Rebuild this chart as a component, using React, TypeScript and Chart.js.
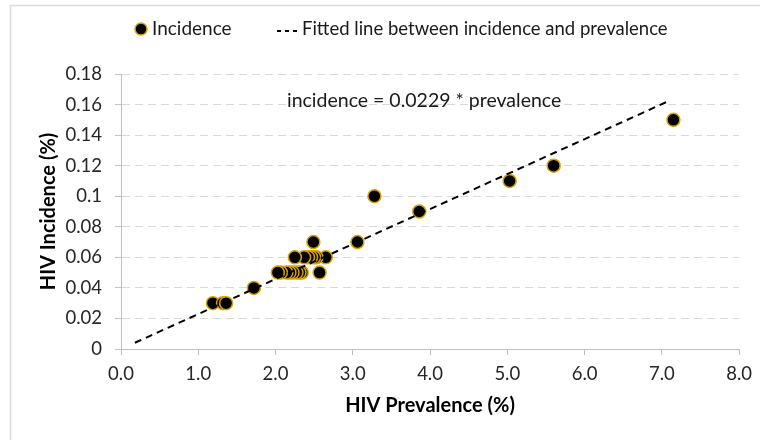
import React, { useEffect, useRef } from 'react';
import { Chart, registerables } from 'chart.js';

Chart.register(...registerables);

// ---- data ----
const prevalence = [
  1.19, 1.32, 1.36, 1.72,
  2.34, 2.31, 2.27, 2.22, 2.18, 2.14, 2.07, 2.03, 2.57,
  2.65, 2.53, 2.50, 2.46, 2.42, 2.37, 2.25,
  2.49, 3.06, 3.28, 3.86, 5.03, 5.60, 7.15,
];
const incidence = [
  0.03, 0.03, 0.03, 0.04,
  0.05, 0.05, 0.05, 0.05, 0.05, 0.05, 0.05, 0.05, 0.05,
  0.06, 0.06, 0.06, 0.06, 0.06, 0.06, 0.06,
  0.07, 0.07, 0.10, 0.09, 0.11, 0.12, 0.15,
];
const fitPrevalence = [0.18, 7.08];
const fitIncidence = [0.0041, 0.1621];

const legendLabels = ['Incidence', 'Fitted line between incidence and prevalence'];
const equationText = 'incidence = 0.0229 * prevalence';
const xTitle = 'HIV Prevalence (%)';
const yTitle = 'HIV Incidence (%)';

const FONT = 'Lato, "Open Sans", sans-serif';
const GOLD = '#D9A400';

const decor = {
  id: 'decor',
  beforeDraw(chart: any) {
    const ctx = chart.ctx;
    ctx.save();
    ctx.fillStyle = '#ffffff';
    ctx.fillRect(0, 0, chart.width, chart.height);
    ctx.strokeStyle = '#d9d9d9';
    ctx.lineWidth = 1.5;
    ctx.beginPath();
    ctx.moveTo(10.5, 440);
    ctx.lineTo(10.5, 5.5);
    ctx.lineTo(760, 5.5);
    ctx.stroke();
    ctx.restore();
  },
  afterDraw(chart: any) {
    const ctx = chart.ctx;
    ctx.save();
    // legend
    ctx.fillStyle = '#000';
    ctx.strokeStyle = GOLD;
    ctx.lineWidth = 1.5;
    ctx.beginPath();
    ctx.arc(141, 29, 6, 0, Math.PI * 2);
    ctx.fill();
    ctx.stroke();
    ctx.font = `19px ${FONT}`;
    ctx.fillStyle = '#1a1a1a';
    ctx.textBaseline = 'middle';
    ctx.textAlign = 'left';
    ctx.fillText(legendLabels[0], 152, 29);
    ctx.strokeStyle = '#000';
    ctx.lineWidth = 2;
    ctx.setLineDash([4, 4]);
    ctx.beginPath();
    ctx.moveTo(277, 31);
    ctx.lineTo(299, 31);
    ctx.stroke();
    ctx.setLineDash([]);
    ctx.font = `18.5px ${FONT}`;
    ctx.fillText(legendLabels[1], 302, 29);
    // equation
    ctx.font = `19.5px ${FONT}`;
    ctx.fillText(equationText, 287, 101);
    ctx.restore();
  },
};

export default function App() {
  const ref = useRef<HTMLCanvasElement | null>(null);
  useEffect(() => {
    if (!ref.current) return;
    const chart = new Chart(ref.current, {
      type: 'scatter',
      data: {
        datasets: [
          {
            type: 'line',
            label: legendLabels[1],
            data: fitPrevalence.map((x, i) => ({ x, y: fitIncidence[i] })),
            borderColor: '#000',
            borderWidth: 2,
            borderDash: [7, 5],
            pointRadius: 0,
            fill: false,
            order: 0,
          } as any,
          {
            type: 'scatter',
            label: legendLabels[0],
            data: prevalence.map((x, i) => ({ x, y: incidence[i] })),
            backgroundColor: '#000',
            borderColor: GOLD,
            borderWidth: 1.5,
            pointRadius: 6.5,
            order: 1,
          },
        ],
      },
      options: {
        responsive: false,
        animation: false,
        layout: { padding: { left: 33, right: 19, top: 74, bottom: 18 } },
        plugins: { legend: { display: false }, tooltip: { enabled: false } },
        scales: {
          x: {
            type: 'linear',
            min: 0,
            max: 8,
            ticks: {
              stepSize: 1,
              maxRotation: 0,
              padding: 8,
              color: '#262626',
              font: { family: FONT, size: 18.5 },
              callback: (v: any) => Number(v).toFixed(1),
            },
            grid: {
              drawOnChartArea: false,
              drawTicks: true,
              tickLength: 6,
              color: '#bfbfbf',
              tickColor: '#bfbfbf',
            },
            border: { display: true, color: '#bfbfbf', width: 1 },
            title: {
              display: true,
              text: xTitle,
              color: '#000',
              font: { family: FONT, size: 20, weight: 'bold' },
              padding: { top: 4, bottom: 4 },
            },
            afterFit: (s: any) => { s.height = 73; },
          },
          y: {
            min: 0,
            max: 0.18,
            ticks: {
              stepSize: 0.02,
              padding: 13,
              color: '#262626',
              font: { family: FONT, size: 18.5 },
              callback: (v: any) => String(Number(Number(v).toFixed(2))),
            },
            grid: {
              color: '#d9d9d9',
              tickColor: '#bfbfbf',
              tickLength: 6,
              tickBorderDash: [],
            },
            border: { display: true, color: '#bfbfbf', width: 1, dash: [8, 5] },
            title: {
              display: true,
              text: yTitle,
              color: '#000',
              font: { family: FONT, size: 20, weight: 'bold' },
              padding: { top: 4, bottom: 4 },
            },
            afterFit: (s: any) => { s.width = 88; },
          },
        },
      },
      plugins: [decor],
    });
    return () => chart.destroy();
  }, []);
  return (
    <div style={{ position: 'absolute', left: 0, top: 0, width: 760, height: 440 }}>
      <canvas ref={ref} width={760} height={440} />
    </div>
  );
}
